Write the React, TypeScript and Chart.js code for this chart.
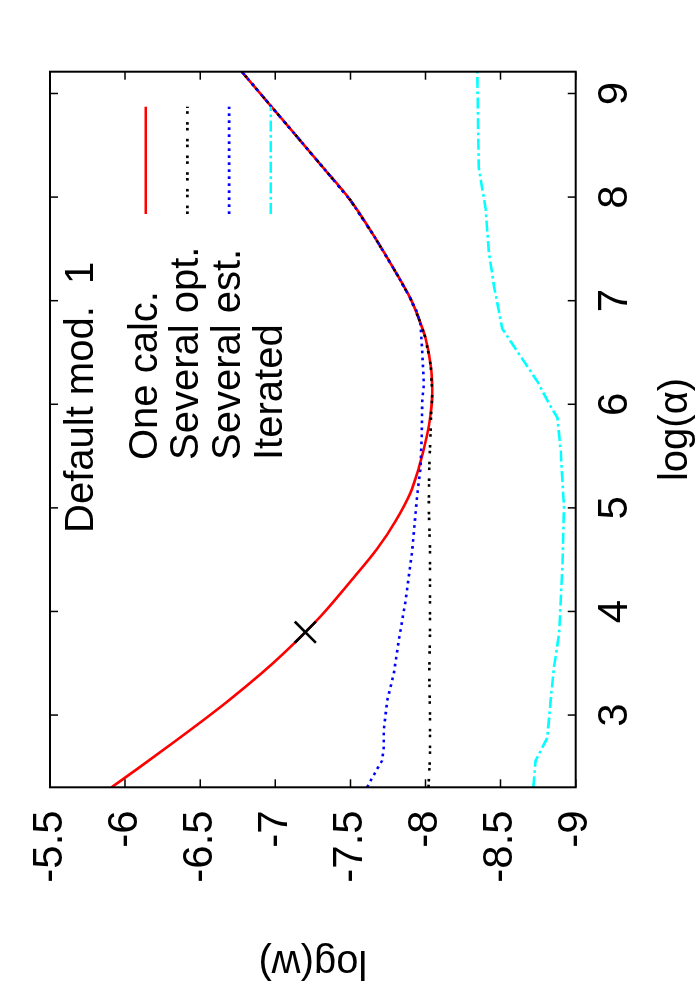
import React, { useEffect, useRef } from "react";
import { Chart, registerables } from "chart.js";

Chart.register(...registerables);

// ---------- data ----------
const xTickValues = [3, 4, 5, 6, 7, 8, 9];
const yTickValues = [-9, -8.5, -8, -7.5, -7, -6.5, -6, -5.5];

const xTitle = "log(\u03b1)";
const yTitle = "log(w)";
const keyTitle = "Default mod.  1";
const seriesLabels = ["One calc.", "Several opt.", "Several est.", "Iterated"];

const oneCalcAlpha = [2.3026, 2.5, 2.75, 3.0, 3.14, 3.4, 3.6, 3.8, 4.0, 4.29, 4.6, 4.87, 5.13, 5.385, 5.7, 5.9, 6.1, 6.37, 6.64, 6.83, 7.02, 7.28, 7.63, 7.97, 8.3, 8.6, 8.886, 9.2103];
const oneCalcW = [-5.91, -6.1, -6.335, -6.565, -6.689, -6.905, -7.059, -7.2, -7.331, -7.5, -7.675, -7.8, -7.895, -7.955, -8.01, -8.033, -8.045, -8.035, -8.0, -7.955, -7.9, -7.8, -7.655, -7.5, -7.31, -7.134, -6.967, -6.777];

const sevOptAlpha = [2.3026, 2.6, 3.0, 3.4, 3.8, 4.2, 4.6, 5.0, 5.4, 5.7, 5.9, 6.1, 6.37, 6.64, 6.83, 7.02, 7.28, 7.63, 7.97, 8.3, 8.6, 8.886, 9.2103];
const sevOptW = [-8.02, -8.03, -8.03, -8.025, -8.03, -8.03, -8.03, -8.022, -8.025, -8.033, -8.037, -8.045, -8.035, -8.0, -7.955, -7.9, -7.8, -7.655, -7.5, -7.31, -7.134, -6.967, -6.777];

const sevEstAlpha = [2.3026, 2.48, 2.56, 2.69, 2.85, 3.14, 3.4, 3.72, 4.1, 4.58, 5.13, 5.385, 5.7, 6.03, 6.19, 6.51, 6.77, 6.9, 7.02, 7.28, 7.63, 7.97, 8.3, 8.6, 8.886, 9.2103];
const sevEstW = [-7.611, -7.678, -7.711, -7.722, -7.722, -7.745, -7.789, -7.822, -7.867, -7.911, -7.945, -7.967, -7.975, -7.978, -7.989, -7.978, -7.967, -7.94, -7.9, -7.8, -7.655, -7.5, -7.31, -7.134, -6.967, -6.777];

const iterAlpha = [2.3026, 2.56, 2.78, 3.14, 3.46, 3.78, 4.42, 5.0, 5.55, 5.87, 6.0, 6.22, 6.51, 6.73, 7.15, 7.47, 7.89, 8.28, 8.7, 9.2103];
const iterW = [-8.718, -8.733, -8.811, -8.833, -8.855, -8.889, -8.911, -8.922, -8.9, -8.878, -8.825, -8.745, -8.611, -8.511, -8.455, -8.422, -8.4, -8.355, -8.35, -8.345];

const markerAlpha = [3.8];
const markerW = [-7.2];

// ---------- layout / style constants ----------
const W = 1000;
const H = 700;
const PLOT_LEFT = 212.7;
const PLOT_TOP = 50;
const PLOT_RIGHT = 928.3;
const PLOT_BOTTOM = 575.7;
const FONT = "'Liberation Sans', Arial, Helvetica, sans-serif";

const pts = (xs: number[], ys: number[]) => xs.map((x, i) => ({ x, y: ys[i] }));

const framePlugin = {
  id: "gnuplotFrame",
  afterDatasetsDraw(chart: any) {
    const { ctx, chartArea: a, scales } = chart;
    const xs = scales.x;
    const ys = scales.y;
    ctx.save();
    ctx.strokeStyle = "#000";
    ctx.lineWidth = 1.5;
    const tl = 8;
    ctx.beginPath();
    xTickValues.forEach((v) => {
      const p = xs.getPixelForValue(v);
      ctx.moveTo(p, a.bottom);
      ctx.lineTo(p, a.bottom - tl);
      ctx.moveTo(p, a.top);
      ctx.lineTo(p, a.top + tl);
    });
    yTickValues.forEach((v) => {
      const p = ys.getPixelForValue(v);
      ctx.moveTo(a.left, p);
      ctx.lineTo(a.left + tl, p);
      ctx.moveTo(a.right, p);
      ctx.lineTo(a.right - tl, p);
    });
    ctx.stroke();
    ctx.lineWidth = 2;
    ctx.strokeRect(a.left, a.top, a.right - a.left, a.bottom - a.top);

    // key
    ctx.fillStyle = "#000";
    ctx.font = `40px ${FONT}`;
    ctx.textAlign = "left";
    ctx.textBaseline = "alphabetic";
    ctx.fillText(keyTitle, 467, 93.3);
    const rowY0 = 145.7;
    const rowStep = 41.7;
    const textX = 540;
    const sampleX0 = 786;
    const sampleX1 = 893.3;
    chart.data.datasets.forEach((ds: any, i: number) => {
      if (i >= seriesLabels.length) return;
      const y = rowY0 + i * rowStep;
      ctx.textBaseline = "middle";
      ctx.fillText(ds.label, textX, y);
      ctx.save();
      ctx.strokeStyle = ds.borderColor;
      ctx.lineWidth = ds.borderWidth;
      ctx.lineCap = "butt";
      ctx.setLineDash(ds.borderDash || []);
      ctx.beginPath();
      ctx.moveTo(sampleX0, y);
      ctx.lineTo(sampleX1, y);
      ctx.stroke();
      ctx.restore();
    });
    ctx.restore();
  },
};

export default function App() {
  const ref = useRef<HTMLCanvasElement | null>(null);

  useEffect(() => {
    document.body.style.overflow = "hidden";
    if (!ref.current) return;
    const chart = new Chart(ref.current, {
      type: "line",
      data: {
        datasets: [
          {
            label: seriesLabels[0],
            data: pts(oneCalcAlpha, oneCalcW),
            borderColor: "#ff0000",
            borderWidth: 2.6,
            pointRadius: 0,
            cubicInterpolationMode: "monotone",
            order: 4,
          },
          {
            label: seriesLabels[1],
            data: pts(sevOptAlpha, sevOptW),
            borderColor: "#000000",
            borderWidth: 2.6,
            borderDash: [2.6, 3.2, 2.6, 8.3],
            pointRadius: 0,
            order: 3,
          },
          {
            label: seriesLabels[2],
            data: pts(sevEstAlpha, sevEstW),
            borderColor: "#0000ff",
            borderWidth: 2.6,
            borderDash: [2.7, 4.3],
            pointRadius: 0,
            order: 2,
          },
          {
            label: seriesLabels[3],
            data: pts(iterAlpha, iterW),
            borderColor: "#00ffff",
            borderWidth: 2.6,
            borderDash: [11, 3.5, 2.6, 3.5],
            pointRadius: 0,
            order: 1,
          },
          {
            label: "",
            data: pts(markerAlpha, markerW),
            showLine: false,
            borderColor: "#000000",
            pointStyle: "crossRot",
            pointRadius: 15,
            pointBorderWidth: 2.6,
            pointBorderColor: "#000000",
            order: 0,
          },
        ] as any,
      },
      options: {
        responsive: false,
        animation: false,
        devicePixelRatio: 1,
        events: [],
        layout: { padding: { left: 0, top: PLOT_TOP, right: W - PLOT_RIGHT, bottom: 0 } },
        plugins: { legend: { display: false }, tooltip: { enabled: false } },
        scales: {
          x: {
            type: "linear",
            min: Math.log(10),
            max: Math.log(10000),
            bounds: "data",
            afterBuildTicks: (s: any) => {
              s.ticks = xTickValues.map((v) => ({ value: v }));
            },
            afterFit: (s: any) => {
              s.height = H - PLOT_BOTTOM;
            },
            grid: { display: false, drawTicks: false },
            border: { display: false },
            ticks: {
              padding: 15,
              autoSkip: false,
              maxRotation: 0,
              color: "#000",
              font: { family: FONT, size: 42 },
              callback: (v: any) => String(v),
            },
            title: {
              display: true,
              text: xTitle,
              color: "#000",
              font: { family: FONT, size: 40 },
              padding: { top: 0, bottom: 0 },
            },
          },
          y: {
            type: "linear",
            min: -9,
            max: -5.5,
            bounds: "data",
            afterBuildTicks: (s: any) => {
              s.ticks = yTickValues.map((v) => ({ value: v }));
            },
            afterFit: (s: any) => {
              s.width = PLOT_LEFT;
            },
            grid: { display: false, drawTicks: false },
            border: { display: false },
            ticks: {
              padding: 23,
              autoSkip: false,
              color: "#000",
              font: { family: FONT, size: 42 },
              callback: (v: any) => String(v),
            },
            title: {
              display: true,
              text: yTitle,
              color: "#000",
              font: { family: FONT, size: 40 },
              padding: { top: 14, bottom: 0 },
            },
          },
        },
      } as any,
      plugins: [framePlugin],
    });
    return () => chart.destroy();
  }, []);

  return (
    <div
      style={{
        position: "absolute",
        left: 0,
        top: H + (W - H),
        width: W,
        height: H,
        transform: "rotate(-90deg)",
        transformOrigin: "0 0",
        background: "#fff",
      }}
    >
      <canvas ref={ref} width={W} height={H} style={{ display: "block", width: W, height: H }} />
    </div>
  );
}
